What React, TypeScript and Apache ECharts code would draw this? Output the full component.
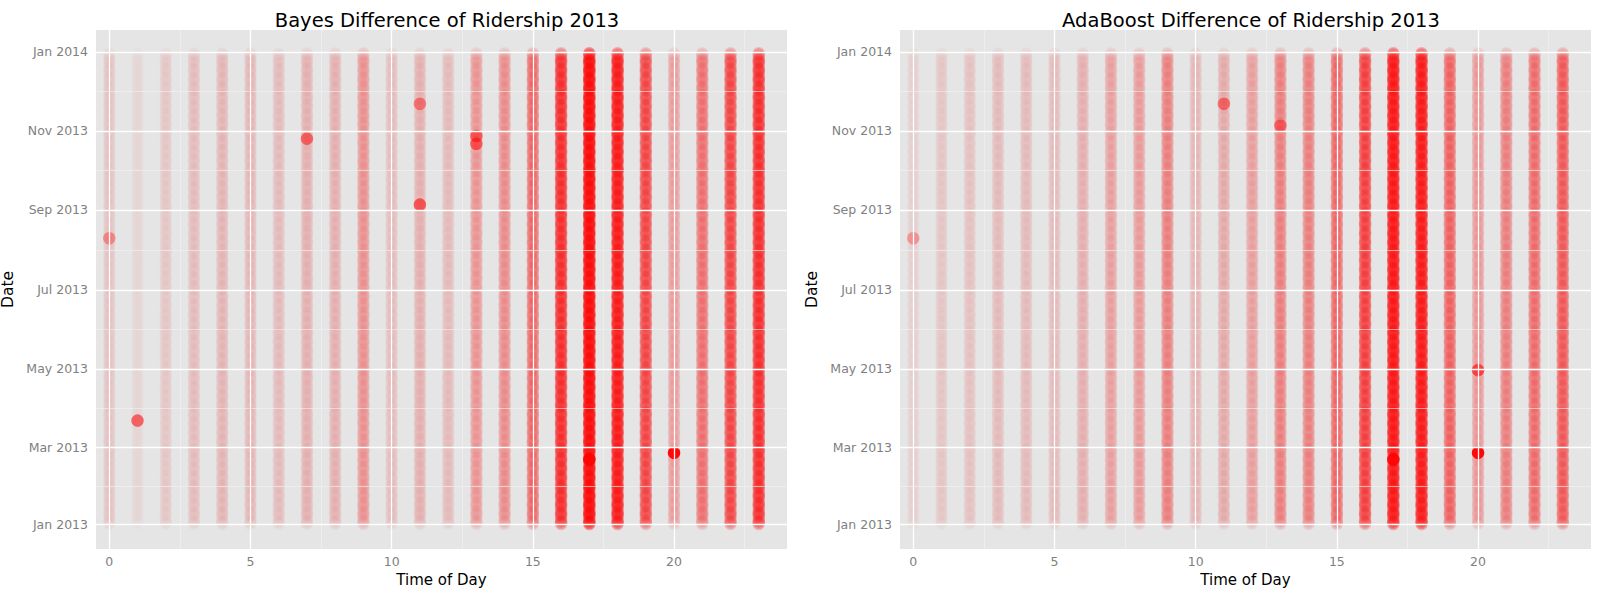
import { useEffect, useRef } from 'react';
import * as echarts from 'echarts';

// column darkness per hour (0..23) (0 = empty, 1 = solid red)
const bayesIntensity = [0.15, 0.08, 0.13, 0.18, 0.22, 0.22, 0.2, 0.25, 0.25, 0.4, 0.18, 0.25, 0.2, 0.38, 0.42, 0.6, 0.85, 0.97, 0.92, 0.75, 0.35, 0.55, 0.75, 0.85];
const adaIntensity = [0.1, 0.14, 0.16, 0.2, 0.2, 0.2, 0.24, 0.32, 0.35, 0.48, 0.22, 0.28, 0.32, 0.48, 0.48, 0.6, 0.78, 0.93, 0.92, 0.62, 0.38, 0.48, 0.58, 0.66];
// weekday factor, Sunday..Saturday
const weekdayFactor = [0.3, 1, 1, 1, 1, 0.9, 0.4];
// single darker points: [hour, date, opacity]
const bayesHighlights: [number, string, number][] = [
  [1, '2013-03-22', 0.55], [20, '2013-02-25', 0.95], [11, '2013-09-05', 0.55],
  [7, '2013-10-26', 0.5], [13, '2013-10-22', 0.5], [13, '2013-10-28', 0.5], [17, '2013-02-20', 0.8],
  [0, '2013-08-10', 0.35], [11, '2013-11-22', 0.4],
];
const adaHighlights: [number, string, number][] = [
  [20, '2013-02-25', 0.95], [20, '2013-04-30', 0.6], [17, '2013-02-20', 0.8],
  [0, '2013-08-10', 0.3], [11, '2013-11-22', 0.45], [13, '2013-11-05', 0.4],
];
const monthTicks = [0, 59, 120, 181, 243, 304, 365];
const monthLabels = ['Jan 2013', 'Mar 2013', 'May 2013', 'Jul 2013', 'Sep 2013', 'Nov 2013', 'Jan 2014'];
const monthMinor = [29.5, 89.5, 150.5, 212, 273.5, 334.5];
const hourTicks = [0, 5, 10, 15, 20];
const hourMinor = [2.5, 7.5, 12.5, 17.5, 22.5];

const DAY0 = Date.UTC(2013, 0, 1);
const dayIndex = (d: string) => Math.round((Date.parse(d + 'T00:00:00Z') - DAY0) / 86400000);
const OVERLAP = 9;
const pointAlpha = (e: number) => 1 - Math.pow(1 - Math.min(e, 0.99), 1 / OVERLAP);

function buildPoints(intensity: number[], highlights: [number, string, number][]) {
  const pts: any[] = [];
  for (let h = 0; h < 24; h++) {
    for (let d = 0; d < 365; d++) {
      const wd = (2 + d) % 7; // Jan 1 2013 is a Tuesday
      pts.push({ value: [h, d], itemStyle: { opacity: pointAlpha(intensity[h] * weekdayFactor[wd]) } });
    }
  }
  highlights.forEach(([h, d, o]) => pts.push({ value: [h, dayIndex(d)], itemStyle: { opacity: o } }));
  return pts;
}

const font = 'DejaVu Sans';

function axes(gi: number) {
  const x = [
    {
      gridIndex: gi, type: 'value', min: -0.47, max: 24,
      name: 'Time of Day', nameLocation: 'middle', nameGap: 23,
      nameTextStyle: { fontFamily: font, fontSize: 15, color: '#000' },
      axisLine: { show: false },
      axisTick: { show: true, customValues: hourTicks, length: 4, lineStyle: { color: '#7f7f7f' } },
      axisLabel: { customValues: hourTicks, color: '#7f7f7f', fontFamily: font, fontSize: 12.5, margin: 6 },
      splitLine: { show: false },
    },
  ];
  const y = [
    {
      gridIndex: gi, type: 'value', min: -19.3, max: 382,
      name: 'Date', nameLocation: 'middle', nameGap: 80,
      nameTextStyle: { fontFamily: font, fontSize: 15.5, color: '#000' },
      axisLine: { show: false },
      axisTick: { show: true, customValues: monthTicks, length: 4, lineStyle: { color: '#7f7f7f' } },
      axisLabel: { customValues: monthTicks, color: '#7f7f7f', fontFamily: font, fontSize: 12.5, margin: 8,
        formatter: (v: number) => monthLabels[monthTicks.indexOf(Math.round(v))] ?? '' },
      splitLine: { show: false },
    },
  ];
  return { x, y };
}

function gridLines(gi: number) {
  const major = { lineStyle: { color: '#ffffff', width: 1.3, type: 'solid' } };
  const minor = { lineStyle: { color: '#f2f2f2', width: 0.6, type: 'solid' } };
  const data: any[] = [];
  hourTicks.forEach(v => data.push({ xAxis: v, ...major }));
  hourMinor.forEach(v => data.push({ xAxis: v, ...minor }));
  monthTicks.forEach(v => data.push({ yAxis: v, ...major }));
  monthMinor.forEach(v => data.push({ yAxis: v, ...minor }));
  return {
    type: 'scatter', xAxisIndex: gi, yAxisIndex: gi, data: [], silent: true, z: 1,
    markLine: { silent: true, symbol: 'none', label: { show: false }, data, animation: false, z: 1 },
  };
}

export default function App() {
  const ref = useRef<HTMLDivElement>(null);
  useEffect(() => {
    document.body.style.margin = '0';
    document.documentElement.style.overflow = 'hidden';
    document.body.style.overflow = 'hidden';
    if (!ref.current) return;
    const chart = echarts.init(ref.current, undefined, { renderer: 'svg' });
    const a0 = axes(0);
    const a1 = axes(1);
    const scatter = (gi: number, data: any[]) => ({
      type: 'scatter', xAxisIndex: gi, yAxisIndex: gi, data, symbolSize: 12.5, z: 3,
      progressive: 0, large: false,
      itemStyle: { color: '#ff0000', borderWidth: 0 }, silent: true,
    });
    chart.setOption({
      animation: false,
      backgroundColor: '#ffffff',
      title: [
        { text: 'Bayes Difference of Ridership 2013', left: 442, top: 5, textAlign: 'center',
          textStyle: { fontFamily: font, fontSize: 19.5, fontWeight: 'normal', color: '#000' } },
        { text: 'AdaBoost Difference of Ridership 2013', left: 1246, top: 5, textAlign: 'center',
          textStyle: { fontFamily: font, fontSize: 19.5, fontWeight: 'normal', color: '#000' } },
      ],
      grid: [
        { left: 96, width: 691, top: 30, height: 519, show: true, backgroundColor: '#e5e5e5', borderWidth: 0,
          containLabel: false, outerBoundsMode: 'none' },
        { left: 900, width: 691, top: 30, height: 519, show: true, backgroundColor: '#e5e5e5', borderWidth: 0,
          containLabel: false, outerBoundsMode: 'none' },
      ],
      xAxis: [...a0.x, ...a1.x],
      yAxis: [...a0.y, ...a1.y],
      series: [
        gridLines(0), gridLines(1),
        scatter(0, buildPoints(bayesIntensity, bayesHighlights)),
        scatter(1, buildPoints(adaIntensity, adaHighlights)),
      ],
    });
    return () => chart.dispose();
  }, []);
  return (
    <div style={{ width: 1600, height: 593, overflow: 'hidden', position: 'fixed', left: 0, top: 0 }}>
      <div ref={ref} style={{ width: 1600, height: 593 }} />
    </div>
  );
}
